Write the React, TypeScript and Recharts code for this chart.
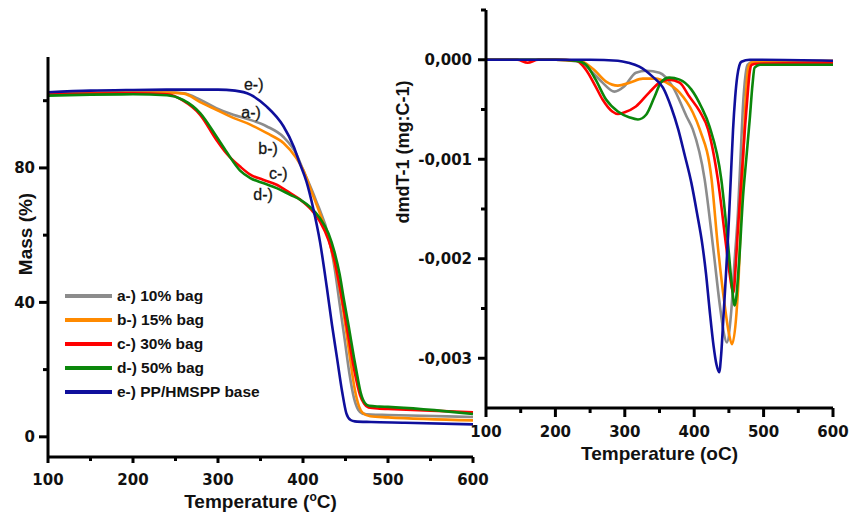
import { Label, Legend, Line, LineChart, ReferenceDot, XAxis, YAxis } from 'recharts';

// TGA curves: mass (%) vs temperature (°C)
const tgaTempA = [100, 150, 200, 240, 260, 279, 298, 318, 338, 357, 377, 392, 400, 415, 431, 437, 443.5, 449, 454.5, 460, 465, 470, 480, 500, 600];
const tgaMassA = [102.2, 102.4, 102.5, 102.5, 102.2, 100.3, 97.8, 95.8, 94.3, 92.4, 89.2, 84.2, 79.5, 70.5, 58.6, 50.5, 38.8, 29, 19, 11.5, 8, 6.9, 6.6, 6.5, 5.9];

const tgaTempB = [100, 150, 200, 240, 260, 279, 298, 318, 338, 357, 377, 392, 400, 410, 424, 430, 436, 444, 450, 455, 461, 466, 470, 479, 500, 600];
const tgaMassB = [102.0, 102.3, 102.4, 102.4, 102.1, 99.6, 97.3, 94.9, 92.9, 90.4, 87.4, 83, 79.5, 73, 63.6, 59, 53, 43, 33, 24, 14, 9, 7.2, 6.1, 5.8, 4.9];

const tgaTempC = [100, 150, 200, 240, 259, 279, 298, 310, 326, 338, 353, 369, 385, 397, 410, 420, 430, 437, 443, 448, 454, 461, 467, 472, 477, 490, 500, 600];
const tgaMassC = [101.8, 102.1, 102.2, 101.9, 100.0, 95.8, 88.4, 84.3, 80.4, 78, 76.5, 75, 72.5, 70.5, 67.5, 64, 58.5, 52.5, 45, 38, 29, 19, 12.5, 9.8, 8.7, 8.4, 8.3, 7.3];

const tgaTempD = [100, 150, 200, 240, 259, 279, 298, 310, 326, 338, 353, 369, 385, 397, 410, 420, 430, 437, 443, 448, 454, 460, 464, 468, 473, 478, 490, 500, 600];
const tgaMassD = [101.5, 101.8, 101.9, 101.6, 100.2, 96.3, 89.4, 84.8, 79.2, 77, 75.5, 74, 72, 70.5, 68, 65, 60.5, 55, 48.5, 41, 32.5, 23.5, 18, 13, 10, 9.2, 9.0, 8.9, 6.8];

const tgaTempE = [100, 150, 200, 250, 300, 320, 338, 357, 377, 389, 396, 404, 412, 420, 428, 434, 440, 446, 451, 456, 461, 480, 520, 600];
const tgaMassE = [102.5, 103.0, 103.2, 103.3, 103.3, 103.0, 101.8, 98.3, 92.4, 86.4, 81.5, 76, 68, 58, 44.5, 33.5, 23.5, 13.5, 7, 5, 4.6, 4.4, 4.2, 3.7];

// DTG curves: dm/dT (mg/°C) vs temperature (°C)
const dtgTempA = [100, 200, 234, 254, 268, 285, 299, 316, 331, 350, 369, 389, 398, 415, 427, 437, 442, 447, 453, 458, 463, 467, 470, 474, 477, 485, 600];
const dtgRateA = [0, 0, -0.02e-3, -0.13e-3, -0.23e-3, -0.32e-3, -0.27e-3, -0.13e-3, -0.11e-3, -0.13e-3, -0.27e-3, -0.57e-3, -0.7e-3, -1.2e-3, -1.87e-3, -2.47e-3, -2.72e-3, -2.84e-3, -2.56e-3, -2.04e-3, -1.54e-3, -0.95e-3, -0.5e-3, -0.15e-3, -0.05e-3, -0.02e-3, -0.02e-3];

const dtgTempB = [100, 200, 235, 254, 273, 290, 307, 326, 345, 360, 379, 398, 408, 425, 434, 444, 450, 454.5, 461, 464, 468, 472.8, 475, 478, 482, 490, 600];
const dtgRateB = [0, 0, -0.01e-3, -0.09e-3, -0.22e-3, -0.26e-3, -0.23e-3, -0.19e-3, -0.19e-3, -0.23e-3, -0.33e-3, -0.53e-3, -0.7e-3, -1.2e-3, -1.87e-3, -2.47e-3, -2.75e-3, -2.86e-3, -2.54e-3, -2.2e-3, -1.45e-3, -0.6e-3, -0.3e-3, -0.08e-3, -0.03e-3, -0.02e-3, -0.01e-3];

const dtgTempC = [100, 145, 160, 175, 200, 230, 244, 258, 268, 282, 290, 299, 316, 335, 350, 364, 379, 393, 408, 420, 434, 446, 451, 456.5, 460, 463, 466.5, 470, 473.5, 477, 480, 483, 490, 600];
const dtgRateC = [0, 0, -0.03e-3, 0, 0, -0.01e-3, -0.1e-3, -0.27e-3, -0.4e-3, -0.52e-3, -0.545e-3, -0.53e-3, -0.47e-3, -0.33e-3, -0.23e-3, -0.2e-3, -0.23e-3, -0.37e-3, -0.52e-3, -0.7e-3, -1.2e-3, -1.87e-3, -2.15e-3, -2.34e-3, -2.05e-3, -1.7e-3, -1.35e-3, -1.0e-3, -0.65e-3, -0.35e-3, -0.12e-3, -0.05e-3, -0.04e-3, -0.03e-3];

const dtgTempD = [100, 200, 230, 244, 258, 273, 290, 307, 319, 331, 343, 352, 364, 379, 396, 410, 422, 439, 449, 454, 458.4, 464.6, 470.4, 475, 480, 484, 487, 495, 600];
const dtgRateD = [0, 0, -0.01e-3, -0.05e-3, -0.2e-3, -0.4e-3, -0.52e-3, -0.58e-3, -0.6e-3, -0.55e-3, -0.37e-3, -0.23e-3, -0.18e-3, -0.2e-3, -0.3e-3, -0.47e-3, -0.67e-3, -1.2e-3, -1.87e-3, -2.25e-3, -2.47e-3, -2.04e-3, -1.37e-3, -1.0e-3, -0.6e-3, -0.25e-3, -0.08e-3, -0.05e-3, -0.05e-3];

const dtgTempE = [100, 200, 250, 290, 305, 321, 340, 355, 367, 377, 386, 396, 404, 412, 417, 422, 428, 432, 436, 439, 442, 445, 449, 453, 456, 459, 462, 465, 468, 480, 600];
const dtgRateE = [0, 0, 0, -0.01e-3, -0.03e-3, -0.07e-3, -0.17e-3, -0.28e-3, -0.48e-3, -0.7e-3, -0.95e-3, -1.24e-3, -1.54e-3, -1.87e-3, -2.15e-3, -2.5e-3, -2.88e-3, -3.06e-3, -3.14e-3, -2.95e-3, -2.6e-3, -2.25e-3, -1.75e-3, -1.15e-3, -0.7e-3, -0.38e-3, -0.17e-3, -0.06e-3, -0.02e-3, 0, -0.01e-3];

const sampleNames = ['a-) 10% bag', 'b-) 15% bag', 'c-) 30% bag', 'd-) 50% bag', 'e-) PP/HMSPP base'];
const sampleColors = ['#8c8c8c', '#ff8a00', '#ff0000', '#0b870b', '#0f0f9c'];

const tempTicks = [100, 150, 200, 250, 300, 350, 400, 450, 500, 550, 600];
const massTicks = [0, 20, 40, 60, 80, 100];
const rateTicks = [0.0005, 0, -0.0005, -0.001, -0.0015, -0.002, -0.0025, -0.003];

// curve tags drawn next to the TGA curves: [temperature, mass, text]
const curveTags: [number, number, string][] = [
  [342, 104.8, 'e-)'],
  [339, 96.4, 'a-)'],
  [359, 85.9, 'b-)'],
  [371, 78.5, 'c-)'],
  [353, 72, 'd-)'],
];

const toRows = (t: number[], v: number[]) => t.map((x, i) => ({ t: x, v: v[i] }));

const tgaSeries = [
  toRows(tgaTempA, tgaMassA),
  toRows(tgaTempB, tgaMassB),
  toRows(tgaTempC, tgaMassC),
  toRows(tgaTempD, tgaMassD),
  toRows(tgaTempE, tgaMassE),
];
const dtgSeries = [
  toRows(dtgTempA, dtgRateA),
  toRows(dtgTempB, dtgRateB),
  toRows(dtgTempC, dtgRateC),
  toRows(dtgTempD, dtgRateD),
  toRows(dtgTempE, dtgRateE),
];

const INK = '#111';
const tickFont = { fontFamily: '"DejaVu Sans", sans-serif', fontWeight: 700, fontSize: 15, fill: INK };
const titleFont = { fontFamily: '"Liberation Sans", Arial, sans-serif', fontWeight: 700, fontSize: 19, fill: INK };
const axisStroke = { stroke: '#000', strokeWidth: 3 };

const isMajor = (v: number, step: number) => Math.abs(Math.round(v / step) * step - v) < 1e-9;

function leftTick(step: number, fmt: (v: number) => string, majorLen: number, minorLen: number, gap: number) {
  return ({ x, y, payload }: any) => {
    const major = isMajor(payload.value, step);
    return (
      <g>
        <line x1={x} x2={x - (major ? majorLen : minorLen)} y1={y} y2={y} stroke="#000" strokeWidth={3} />
        {major && (
          <text x={x - gap} y={y + 5.5} textAnchor="end" style={tickFont}>
            {fmt(payload.value)}
          </text>
        )}
      </g>
    );
  };
}

function bottomTick(majorLen: number, minorLen: number, labelDy: number) {
  return ({ x, y, payload }: any) => {
    const major = isMajor(payload.value, 100);
    return (
      <g>
        <line x1={x} x2={x} y1={y} y2={y + (major ? majorLen : minorLen)} stroke="#000" strokeWidth={3} />
        {major && (
          <text x={x} y={y + labelDy} textAnchor="middle" style={tickFont}>
            {payload.value}
          </text>
        )}
      </g>
    );
  };
}

function renderLegend({ payload }: any) {
  return (
    <div style={{ fontFamily: '"Liberation Sans", Arial, sans-serif', fontWeight: 700, fontSize: 15.5, color: INK }}>
      {payload.map((item: any) => (
        <div key={item.value} style={{ display: 'flex', alignItems: 'center', height: 24 }}>
          <span style={{ display: 'inline-block', width: 47, height: 4.5, background: item.color, marginRight: 5 }} />
          <span>{item.value}</span>
        </div>
      ))}
    </div>
  );
}

function MassChart() {
  return (
    <LineChart width={500} height={512} margin={{ top: 57, right: 27, bottom: 0, left: 0 }}>
      <XAxis
        dataKey="t"
        type="number"
        domain={[100, 600]}
        ticks={tempTicks}
        interval={0}
        height={55}
        axisLine={axisStroke}
        tickLine={false}
        tickSize={0}
        tickMargin={0}
        tick={bottomTick(6, 4, 28)}
      >
        <Label
          content={({ viewBox }: any) => (
            <text x={viewBox.x + viewBox.width / 2} y={viewBox.y + 51} textAnchor="middle" style={titleFont}>
              Temperature (<tspan dy={-7} fontSize={12}>o</tspan>
              <tspan dy={7}>C)</tspan>
            </text>
          )}
        />
      </XAxis>
      <YAxis
        type="number"
        domain={[-6, 113]}
        ticks={massTicks}
        interval={0}
        width={48}
        axisLine={axisStroke}
        tickLine={false}
        tickSize={0}
        tickMargin={0}
        tick={leftTick(40, (v) => String(v), 9, 5, 13)}
      >
        <Label
          content={({ viewBox }: any) => {
            const cx = viewBox.x + 25;
            const cy = viewBox.y + 177;
            return (
              <text x={cx} y={cy} transform={`rotate(-90 ${cx} ${cy})`} textAnchor="middle" dominantBaseline="central" style={titleFont}>
                Mass (%)
              </text>
            );
          }}
        />
      </YAxis>
      <Legend
        layout="vertical"
        align="center"
        verticalAlign="middle"
        wrapperStyle={{ left: 65, top: 284, width: 'auto' }}
        content={renderLegend}
      />
      {tgaSeries.map((rows, i) => (
        <Line
          key={sampleNames[i]}
          data={rows}
          dataKey="v"
          name={sampleNames[i]}
          type="monotone"
          stroke={sampleColors[i]}
          strokeWidth={2.6}
          dot={false}
          activeDot={false}
          isAnimationActive={false}
        />
      ))}
      {curveTags.map(([t, m, text]) => (
        <ReferenceDot
          key={text}
          x={t}
          y={m}
          r={1}
          fill="none"
          stroke="none"
          label={{
            value: text,
            position: 'center',
            fill: '#151515',
            stroke: '#151515',
            strokeWidth: 0.3,
            fontSize: 16,
            fontFamily: '"Liberation Sans", Arial, sans-serif',
          }}
        />
      ))}
    </LineChart>
  );
}

function RateChart() {
  return (
    <LineChart width={460} height={512} margin={{ top: 10, right: 17, bottom: 0, left: 0 }}>
      <XAxis
        dataKey="t"
        type="number"
        domain={[100, 600]}
        ticks={tempTicks}
        interval={0}
        height={104}
        axisLine={axisStroke}
        tickLine={false}
        tickSize={0}
        tickMargin={0}
        tick={bottomTick(9, 5, 29)}
      >
        <Label
          content={({ viewBox }: any) => (
            <text x={viewBox.x + viewBox.width / 2} y={viewBox.y + 52} textAnchor="middle" style={titleFont}>
              Temperature (oC)
            </text>
          )}
        />
      </XAxis>
      <YAxis
        type="number"
        domain={[-0.0035, 0.0005]}
        ticks={rateTicks}
        interval={0}
        width={96}
        axisLine={axisStroke}
        tickLine={false}
        tickSize={0}
        tickMargin={0}
        tick={leftTick(0.001, (v) => v.toFixed(3).replace('.', ','), 8, 5, 14)}
      >
        <Label
          content={({ viewBox }: any) => {
            const cx = viewBox.x + 13;
            const cy = viewBox.y + 142;
            return (
              <text x={cx} y={cy} transform={`rotate(-90 ${cx} ${cy})`} textAnchor="middle" dominantBaseline="central" style={{ ...titleFont, fontSize: 18 }}>
                dmdT-1 (mg:C-1)
              </text>
            );
          }}
        />
      </YAxis>
      {dtgSeries.map((rows, i) => (
        <Line
          key={sampleNames[i]}
          data={rows}
          dataKey="v"
          name={sampleNames[i]}
          type="monotone"
          stroke={sampleColors[i]}
          strokeWidth={2.6}
          dot={false}
          activeDot={false}
          isAnimationActive={false}
        />
      ))}
    </LineChart>
  );
}

export default function App() {
  return (
    <div style={{ position: 'absolute', left: 0, top: 0, width: 850, height: 512, background: '#fff', overflow: 'hidden' }}>
      <div style={{ position: 'absolute', left: 0, top: 0 }}>
        <MassChart />
      </div>
      <div style={{ position: 'absolute', left: 390, top: 0 }}>
        <RateChart />
      </div>
    </div>
  );
}
